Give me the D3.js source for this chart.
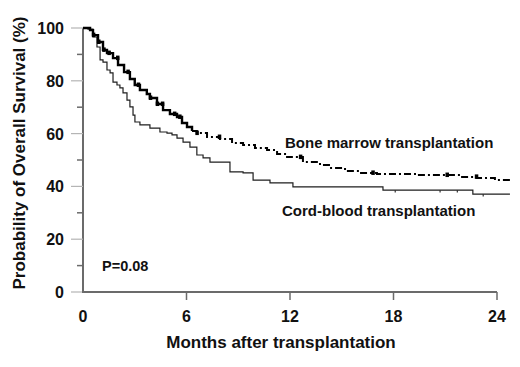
<!DOCTYPE html>
<html><head><meta charset="utf-8">
<script src="https://cdn.jsdelivr.net/npm/d3@7"></script>
<style>html,body{margin:0;padding:0;background:#fff;}svg{display:block;font-family:Arial,"Liberation Sans",sans-serif;font-weight:bold;}</style>
</head><body><svg id="c" width="520" height="367"></svg>
<script>
// Kaplan-Meier step data: months and survival (%) after each step
const cbtTimes = [0,0.29,0.58,0.81,0.99,1.16,1.39,1.57,1.74,1.97,2.14,2.32,2.55,2.72,2.9,3.01,3.3,3.88,4.46,4.87,5.16,5.45,5.8,6.2,6.6,6.96,7.36,8.52,9.28,9.86,10.84,12.17,17.39,22.6,24.75];
const cbtSurv  = [100,99.6,96.6,92.8,87.9,87.1,84.1,83.0,79.5,78.4,77.3,75.4,72.7,70.1,67,64.4,63.3,62.1,60.6,60.2,59.5,58.3,56.8,54.9,51.9,50.8,49.2,45.5,45.1,42.4,41.3,39.8,38.6,37.1,37.1];
const bmtTimes = [0,0.29,0.41,0.58,0.87,1.16,1.39,1.74,2.03,2.38,2.72,3.0,3.3,3.7,3.88,4.29,4.64,5.04,5.45,5.74,6.03,6.32,6.6,7.19,7.94,8.64,9.28,9.97,10.67,11.25,11.83,12.75,13.74,14.32,15.19,16.06,17.04,19.36,21.86,22.84,23.88,24.75];
const bmtSurv  = [100,100,99.2,97.3,94.7,91.7,90.5,88.6,86.0,83.3,80.7,78.4,76.5,75,73.5,71.2,68.9,67.4,66.3,64.0,62.5,61,60.2,58.7,58.0,56.4,55.7,54.5,53.8,52.3,51.1,49.2,48.1,47.0,45.8,45.1,44.7,44.3,43.6,43.2,42.4,42.0];
const bmtCensor = [0.6,0.9,1.2,1.5,2.0,2.6,3.2,3.9,4.3,4.6,5.3,5.6,6.6,7.9,12.6,16.8,21.1,22.8];
const cbtCensor = [18.1,20.7,21.7,23.2];
const xTicks = [0,6,12,18,24];
const yMajor = [0,20,40,60,80,100];
const yMinor = [10,30,50,70,90];
const xTitle = "Months after transplantation";
const yTitle = "Probability of Overall Survival (%)";
const seriesLabels = ["Bone marrow transplantation","Cord-blood transplantation"];
const pLabel = "P=0.08";

const svg = d3.select("#c");
const x = d3.scaleLinear().domain([0,24]).range([83,497]);
const y = d3.scaleLinear().domain([0,100]).range([292,28]);
const stepOf = (t,s)=>s.map((v,i)=>[t[i],v]);
const line = d3.line().x(d=>x(d[0])).y(d=>y(d[1])).curve(d3.curveStepAfter);
const axisCol = "#6b6b6b";

// y axis
svg.append("line").attr("x1",x(0)).attr("x2",x(0)).attr("y1",y(100)).attr("y2",y(0)+1).attr("stroke",axisCol).attr("stroke-width",2);
svg.selectAll(".ymaj").data(yMajor).join("line").attr("x1",71).attr("x2",x(0)).attr("y1",d=>y(d)).attr("y2",d=>y(d)).attr("stroke","#b5b5b5").attr("stroke-width",1.2);
svg.selectAll(".ymin").data(yMinor).join("line").attr("x1",77).attr("x2",x(0)).attr("y1",d=>y(d)).attr("y2",d=>y(d)).attr("stroke",axisCol).attr("stroke-width",1.5);
svg.selectAll(".ylab").data(yMajor).join("text").attr("x",64).attr("y",d=>y(d)+6).attr("text-anchor","end").attr("font-size",16).attr("fill","#111").text(d=>d);
// x axis
svg.append("line").attr("x1",x(0)-1).attr("x2",x(24)).attr("y1",y(0)).attr("y2",y(0)).attr("stroke",axisCol).attr("stroke-width",2);
svg.selectAll(".xt").data(xTicks.slice(1)).join("line").attr("x1",d=>x(d)).attr("x2",d=>x(d)).attr("y1",y(0)).attr("y2",y(0)+8).attr("stroke",axisCol).attr("stroke-width",1.5);
svg.selectAll(".xlab").data(xTicks).join("text").attr("x",d=>x(d)).attr("y",322).attr("text-anchor","middle").attr("font-size",16).attr("fill","#111").text(d=>d);
svg.append("text").attr("x",281).attr("y",348).attr("text-anchor","middle").attr("font-size",17).attr("fill","#111").text(xTitle);
svg.append("text").attr("transform","translate(25,153) rotate(-90)").attr("text-anchor","middle").attr("font-size",17).attr("fill","#111").text(yTitle);

// CBT curve
const cbt = stepOf(cbtTimes,cbtSurv);
svg.append("path").attr("d",line(cbt)).attr("fill","none").attr("stroke","#1e1e1e").attr("stroke-width",1.2);
const survAt=(t,ts,ss)=>{let v=ss[0];for(let i=0;i<ts.length;i++){if(ts[i]<=t)v=ss[i];}return v;};
svg.selectAll(".cc").data(cbtCensor).join("line").attr("x1",d=>x(d)).attr("x2",d=>x(d)).attr("y1",d=>y(survAt(d,cbtTimes,cbtSurv))).attr("y2",d=>y(survAt(d,cbtTimes,cbtSurv))+2.5).attr("stroke","#333").attr("stroke-width",1.2);

// BMT curve
const bmt = stepOf(bmtTimes,bmtSurv);
const split = 6.32;
const bmtA = bmt.filter(d=>d[0]<=split);
const bmtB = bmt.filter(d=>d[0]>=split);
svg.append("path").attr("d",line(bmtA)).attr("fill","none").attr("stroke","#000").attr("stroke-width",2.4);
svg.append("path").attr("d",line(bmtB)).attr("fill","none").attr("stroke","#000").attr("stroke-width",2).attr("stroke-dasharray","7,3,2,3");
svg.selectAll(".bc").data(bmtCensor).join("rect").attr("x",d=>x(d)-1.5).attr("y",d=>y(survAt(d,bmtTimes,bmtSurv))-2.5).attr("width",3.5).attr("height",4.5).attr("fill","#000");

// labels
svg.append("text").attr("x",285).attr("y",148).attr("font-size",15).attr("fill","#111").text(seriesLabels[0]);
svg.append("text").attr("x",282).attr("y",216).attr("font-size",15).attr("fill","#111").text(seriesLabels[1]);
svg.append("text").attr("x",102).attr("y",271).attr("font-size",14.5).attr("fill","#111").text(pLabel);
</script></body></html>
